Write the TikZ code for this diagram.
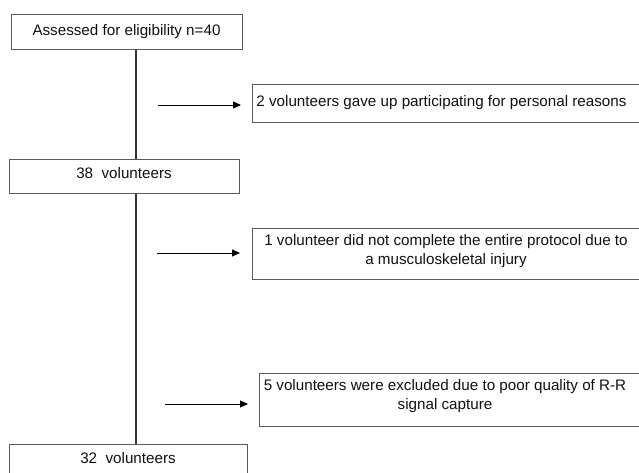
\documentclass[tikz,border=0pt]{standalone}
\usepackage{fontspec}
\setmainfont{Liberation Sans}
\usetikzlibrary{arrows.meta}
\definecolor{boxgray}{HTML}{5A5A5A}
\definecolor{linegray}{HTML}{333333}
\definecolor{txt}{HTML}{111111}
\begin{document}
\begin{tikzpicture}[x=0.75pt,y=-0.75pt,
  every node/.style={font=\fontsize{11.4}{14.2}\selectfont, text=txt},
  flowbox/.style={draw=boxgray, line width=0.75pt, inner sep=0pt},
  label text/.style={inner sep=0pt, align=center},
  trunkline/.style={draw=linegray, line width=1.5pt},
  arr/.style={draw=black, line width=0.75pt, -{Triangle[length=6pt,width=5.25pt]}}]
\useasboundingbox (0,0) rectangle (639,472);
\clip (0,0) rectangle (639,472);
\fill[white] (0,0) rectangle (639,472);
% main boxes
\node[flowbox, minimum width=173.25pt, minimum height=26.25pt] (b1) at (126.5,31.5) {Assessed for eligibility n=40};
\node[flowbox, minimum width=172.5pt, minimum height=25.5pt, text depth=5.25pt] (b2) at (124,176) {38\ \ volunteers};
\node[flowbox, minimum width=178.5pt, minimum height=26.25pt, text depth=5.25pt] (b4) at (128,461.5) {32\ \ volunteers};
% side boxes
\node[flowbox, anchor=north west, minimum width=306pt, minimum height=28.5pt] (r1) at (252,84) {};
\node[flowbox, anchor=north west, minimum width=306pt, minimum height=38.25pt] (r2) at (252,228) {};
\node[flowbox, anchor=north west, minimum width=300.75pt, minimum height=39.75pt] (r3) at (259,373) {};
\node[label text] (t1) at (441.5,103) {2 volunteers gave up participating for personal reasons};
\node[label text] (t2) at (446,251) {1 volunteer did not complete the entire protocol due to\\a musculoskeletal injury};
\node[label text] (t3) at (445,396) {5 volunteers were excluded due to poor quality of R-R\\signal capture};
% trunk
\coordinate (trunk) at (136,0);
\draw[trunkline] (b1.south -| trunk) -- (b2.north -| trunk);
\draw[trunkline] (b2.south -| trunk) -- (b4.north -| trunk);
% arrows
\coordinate (a1s) at (158,105);
\coordinate (a1e) at (241,105);
\coordinate (a2s) at (157,253);
\coordinate (a2e) at (240,253);
\coordinate (a3s) at (165,404);
\coordinate (a3e) at (248,404);
\draw[arr] (a1s) -- (a1e);
\draw[arr] (a2s) -- (a2e);
\draw[arr] (a3s) -- (a3e);
\end{tikzpicture}
\end{document}
